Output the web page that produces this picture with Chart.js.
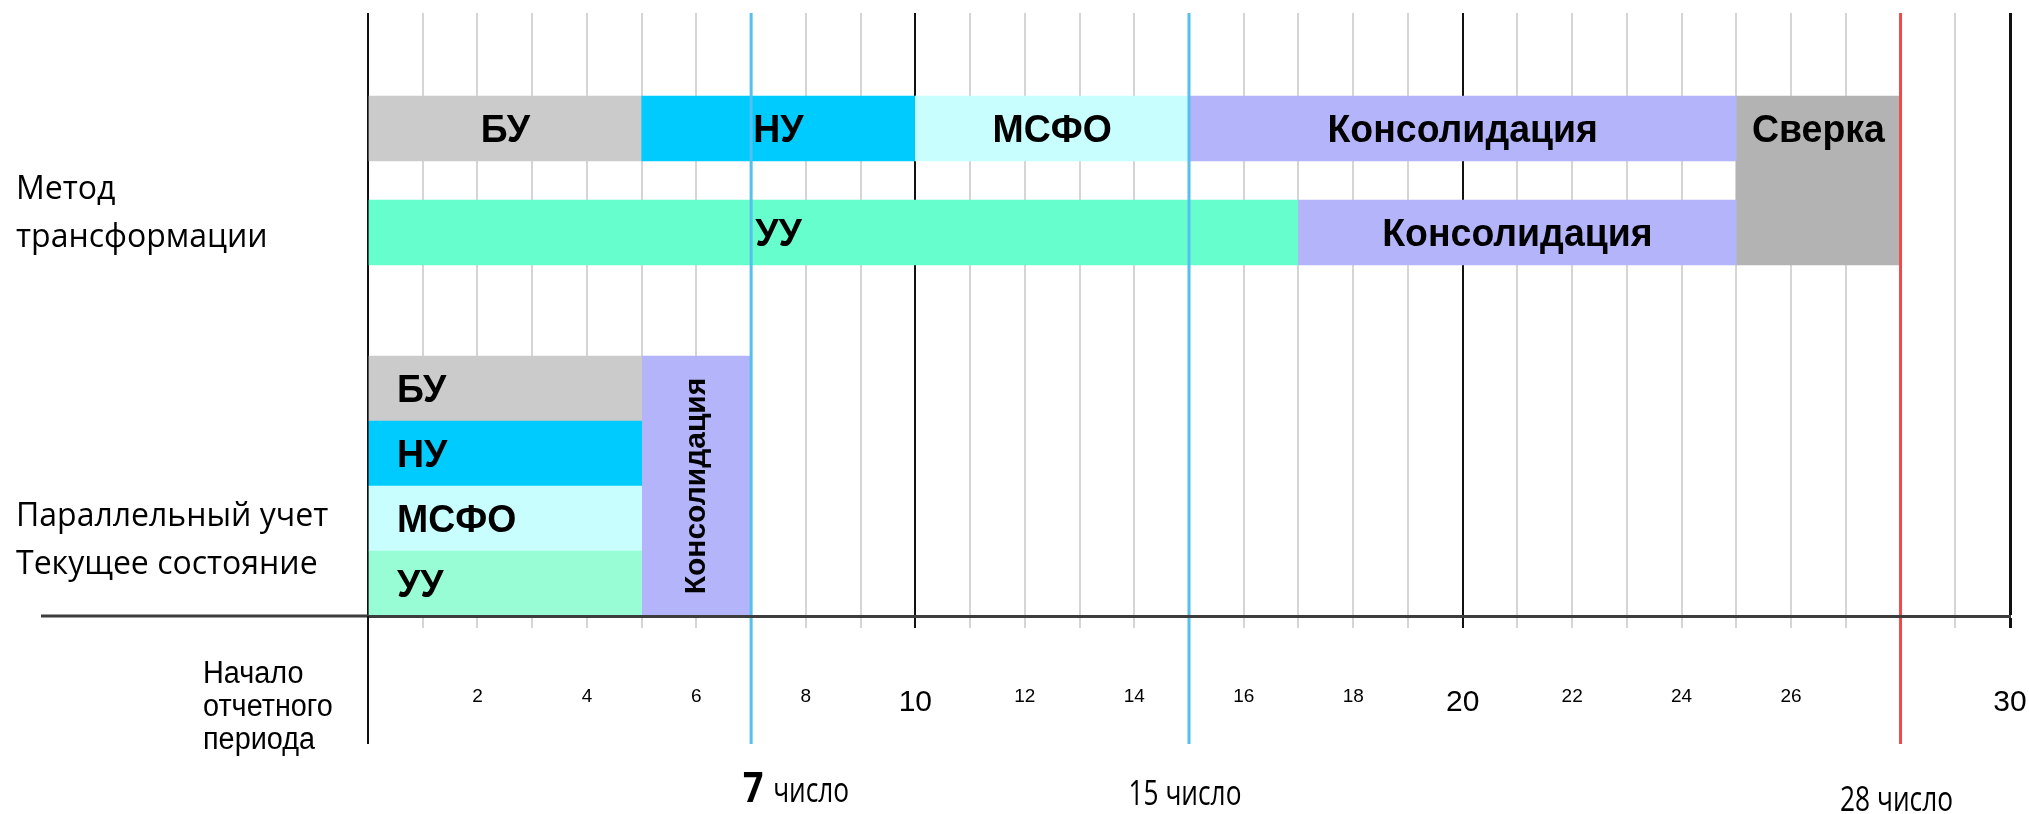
<!DOCTYPE html>
<html>
<head>
<meta charset="utf-8">
<script src="https://cdn.jsdelivr.net/npm/chart.js@4.4.1/dist/chart.umd.min.js"></script>
<style>
  html, body { margin: 0; padding: 0; background: #ffffff; overflow: hidden; }
  canvas { display: block; }
</style>
</head>
<body>
<canvas id="c" width="2029" height="814" style="width:2029px;height:814px"></canvas>
<script>
// ---------------- DATA ----------------
const dayMin = 0;
const dayMax = 30;
const tickLabelDays = [2, 4, 6, 8, 10, 12, 14, 16, 18, 20, 22, 24, 26, 30];
const majorDays = [0, 10, 20, 30];

// "Метод трансформации" – first line
const methodRow1Tasks = ['БУ', 'НУ', 'МСФО', 'Консолидация'];
const methodRow1Start = [0, 5, 10, 15];
const methodRow1End   = [5, 10, 15, 25];

// "Метод трансформации" – second line
const methodRow2Tasks = ['УУ', 'Консолидация'];
const methodRow2Start = [0, 17];
const methodRow2End   = [17, 25];

// reconciliation block shared by both lines
const reconTasks = ['Сверка'];
const reconStart = [25];
const reconEnd   = [28];

// "Параллельный учет / Текущее состояние"
const parallelTasks = ['БУ', 'НУ', 'МСФО', 'УУ'];
const parallelStart = [0, 0, 0, 0];
const parallelEnd   = [5, 5, 5, 5];
const parallelConsTasks = ['Консолидация'];
const parallelConsStart = [5];
const parallelConsEnd   = [7];

// deadline markers
const markerDays = [7, 15, 28];
const markerNumbers = ['7', '15', '28'];
const markerWord = 'число';

// text labels
const groupLabels = [['Метод', 'трансформации'], ['Параллельный учет', 'Текущее состояние']];
const startLabel = ['Начало', 'отчетного', 'периода'];

// ---------------- LAYOUT (lane positions in row units) ----------------
const yMax = 9.277;
const lane = {
  row1: 7.5, row2: 5.9, recon: 6.7,
  parallel: [3.5, 2.5, 1.5, 0.5], parallelCons: 2
};
const laneSpan = { row: 1, recon: 2.6, parallel: 1, parallelCons: 4 };
const groupLabelAt = [6.18, 1.16];
const markerBottom = -1.97;
const row2LabelDay = [7.5, null];

// ---------------- STYLE ----------------
const col = {
  bu: '#cbcbcb', nu: '#00cbff', msfo: '#c9fefe', cons: '#b4b4fb',
  uuTop: '#67fecd', uuLow: '#98fdd5', recon: '#b3b3b3',
  grid: '#d5d5d5', major: '#111111', axis: '#3d3d3d',
  blue: '#55bfee', red: '#ee4a4a'
};
const markerColors = [col.blue, col.blue, col.red];
const BAR_FONT = 'bold 39px "Liberation Sans", Arial, sans-serif';
const BAR_FONT_SIZE = 39;
const BAR_SX = 0.96;
const VERT_FONT = 'bold 30px "Liberation Sans", Arial, sans-serif';

// ---------------- DATASETS ----------------
function barSet(starts, ends, centers, span, colors, names, mode, extra) {
  return Object.assign({
    type: 'bar',
    indexAxis: 'y',
    data: starts.map((s, i) => ({ x: [s, ends[i]], y: Array.isArray(centers) ? centers[i] : centers })),
    backgroundColor: colors,
    borderWidth: 0,
    grouped: false,
    barThickness: 10,
    laneUnits: span,
    taskNames: names,
    labelMode: mode,
    order: 2
  }, extra || {});
}

const datasets = [
  barSet(methodRow1Start, methodRow1End, lane.row1, laneSpan.row,
         [col.bu, col.nu, col.msfo, col.cons], methodRow1Tasks, 'center'),
  barSet(methodRow2Start, methodRow2End, lane.row2, laneSpan.row,
         [col.uuTop, col.cons], methodRow2Tasks, 'center', { labelDay: row2LabelDay }),
  barSet(reconStart, reconEnd, lane.recon, laneSpan.recon,
         [col.recon], reconTasks, 'center', { labelLane: lane.row1 }),
  barSet(parallelStart, parallelEnd, lane.parallel, laneSpan.parallel,
         [col.bu, col.nu, col.msfo, col.uuLow], parallelTasks, 'left'),
  barSet(parallelConsStart, parallelConsEnd, lane.parallelCons, laneSpan.parallelCons,
         [col.cons], parallelConsTasks, 'vertical')
];

markerDays.forEach((d, i) => {
  datasets.push({
    type: 'line',
    data: [{ x: d, y: markerBottom }, { x: d, y: yMax }],
    borderColor: markerColors[i],
    borderWidth: 3,
    pointRadius: 0,
    fill: false,
    clip: false,
    order: 0
  });
});

// ---------------- PLUGINS ----------------
function drawScaledText(ctx, text, x, y, font, sx, align, baseline) {
  ctx.save();
  ctx.font = font;
  ctx.textAlign = align;
  ctx.textBaseline = baseline || 'alphabetic';
  ctx.translate(x, y);
  ctx.scale(sx, 1);
  ctx.fillText(text, 0, 0);
  ctx.restore();
}

const barText = {
  id: 'barText',
  afterDatasetsDraw(chart) {
    const ctx = chart.ctx;
    const xs = chart.scales.x, ys = chart.scales.y;
    ctx.save();
    ctx.fillStyle = '#000000';
    chart.data.datasets.forEach((ds, di) => {
      if (!ds.taskNames) return;
      const meta = chart.getDatasetMeta(di);
      meta.data.forEach((el, i) => {
        const name = ds.taskNames[i];
        if (!name) return;
        const p = el.getProps(['x', 'base', 'y'], true);
        const left = Math.min(p.x, p.base), right = Math.max(p.x, p.base);
        let cy = p.y;
        if (ds.labelLane !== undefined) cy = ys.getPixelForValue(ds.labelLane);
        const capHalf = BAR_FONT_SIZE * 0.716 / 2;
        if (ds.labelMode === 'center') {
          let cx = (left + right) / 2;
          if (ds.labelDay && ds.labelDay[i] != null) cx = xs.getPixelForValue(ds.labelDay[i]);
          drawScaledText(ctx, name, cx, cy + capHalf, BAR_FONT, BAR_SX, 'center');
        } else if (ds.labelMode === 'left') {
          drawScaledText(ctx, name, left + 28, cy + capHalf, BAR_FONT, BAR_SX, 'left');
        } else if (ds.labelMode === 'vertical') {
          ctx.save();
          ctx.translate((left + right) / 2, cy);
          ctx.rotate(-Math.PI / 2);
          ctx.font = VERT_FONT;
          ctx.textAlign = 'center';
          ctx.textBaseline = 'middle';
          ctx.fillText(name, 0, 0);
          ctx.restore();
        }
      });
    });
    ctx.restore();
  }
};

const decor = {
  id: 'decor',
  afterDraw(chart) {
    const ctx = chart.ctx;
    const area = chart.chartArea;
    const xs = chart.scales.x, ys = chart.scales.y;
    const x0 = xs.getPixelForValue(dayMin);
    const y0 = ys.getPixelForValue(0);
    ctx.save();
    // axis line extension to the left
    ctx.strokeStyle = col.axis;
    ctx.lineWidth = 3;
    ctx.beginPath();
    ctx.moveTo(41, y0);
    ctx.lineTo(area.left, y0);
    ctx.stroke();
    // start-of-period axis extension downwards
    ctx.strokeStyle = col.major;
    ctx.lineWidth = 2;
    ctx.beginPath();
    ctx.moveTo(x0, y0);
    ctx.lineTo(x0, ys.getPixelForValue(markerBottom));
    ctx.stroke();

    // "Начало отчетного периода"
    ctx.fillStyle = '#000000';
    startLabel.forEach((t, i) => {
      drawScaledText(ctx, t, x0 - 165, y0 + 67 + i * 33,
        '31px "Liberation Sans", Arial, sans-serif', 0.93, 'left');
    });

    // marker captions
    markerDays.forEach((d, i) => {
      const px = xs.getPixelForValue(d);
      if (i === 0) {
        drawScaledText(ctx, markerNumbers[i], px + 2, y0 + 186,
          'bold 41px "Open Sans", sans-serif', 0.87, 'center');
        drawScaledText(ctx, markerWord, px + 22, y0 + 186,
          '35px "Open Sans", sans-serif', 0.75, 'left');
      } else {
        const txt = markerNumbers[i] + ' ' + markerWord;
        drawScaledText(ctx, txt, px - 4, y0 + (i === 2 ? 195 : 189),
          '35px "Open Sans", sans-serif', 0.75, 'center');
      }
    });
    ctx.restore();
  }
};

// ---------------- CHART ----------------
const chart = new Chart(document.getElementById('c'), {
  type: 'bar',
  data: { datasets },
  options: {
    responsive: false,
    devicePixelRatio: 1,
    animation: false,
    events: [],
    layout: { padding: { left: 16, top: 13, right: 19, bottom: 0 } },
    plugins: { legend: { display: false }, tooltip: { enabled: false } },
    scales: {
      x: {
        type: 'linear',
        position: 'bottom',
        offset: false,
        min: dayMin,
        max: dayMax,
        afterFit: s => { s.height = 198; s.paddingLeft = 0; s.paddingRight = 0; },
        ticks: {
          stepSize: 1,
          autoSkip: false,
          maxRotation: 0,
          padding: 57,
          color: '#000000',
          font: c => ({
            family: '"Liberation Sans", Arial, sans-serif',
            size: (c.tick && majorDays.includes(c.tick.value)) ? 30 : 19
          }),
          callback: v => tickLabelDays.includes(v) ? String(v) : ''
        },
        grid: {
          offset: false,
          color: c => (c.tick && majorDays.includes(c.tick.value)) ? col.major : col.grid,
          lineWidth: c => (c.tick && c.tick.value === dayMax) ? 3 : 2,
          tickLength: 12,
          drawTicks: true
        },
        border: { display: true, color: col.axis, width: 3, z: 1 }
      },
      y: {
        type: 'linear',
        position: 'left',
        offset: false,
        min: 0,
        max: yMax,
        afterBuildTicks: s => { s.ticks = groupLabelAt.map(v => ({ value: v })); },
        afterFit: s => { s.width = 352; s.paddingTop = 0; s.paddingBottom = 0; },
        ticks: {
          autoSkip: false,
          crossAlign: 'far',
          color: '#000000',
          font: { family: '"Open Sans", sans-serif', size: 32, lineHeight: '48px' },
          callback: (v, i) => groupLabels[i]
        },
        grid: { display: false, offset: false },
        border: { display: false }
      }
    }
  },
  plugins: [barText, decor]
});

// convert lane spans (row units) to pixel thickness through the y scale
const ys = chart.scales.y;
const unitPx = Math.abs(ys.getPixelForValue(1) - ys.getPixelForValue(0));
chart.data.datasets.forEach(ds => {
  if (ds.laneUnits) ds.barThickness = ds.laneUnits * unitPx;
});
chart.update();
</script>
</body>
</html>
